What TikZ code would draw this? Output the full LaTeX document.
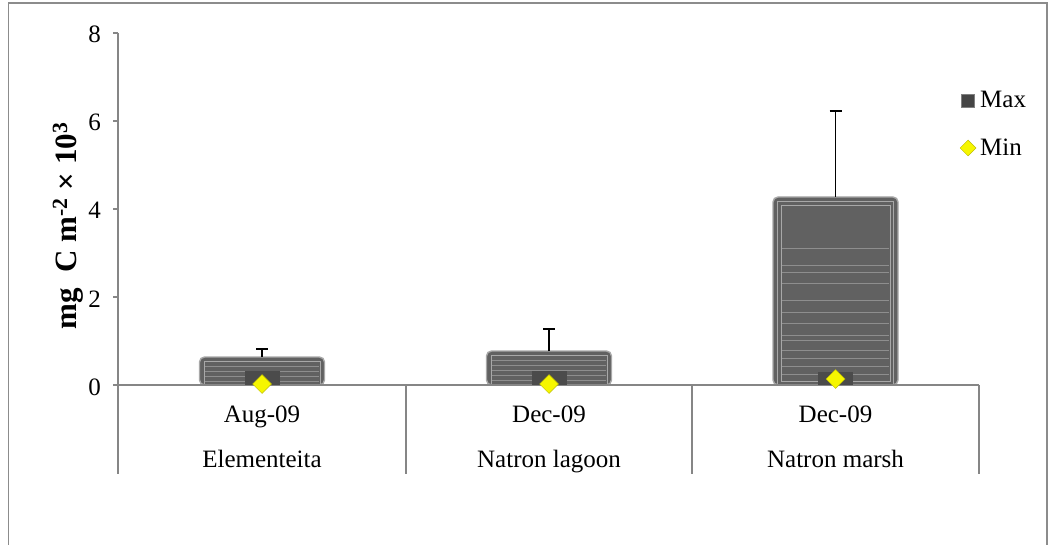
\documentclass[tikz,border=0pt]{standalone}
\usepackage{fontspec}
\setmainfont{Liberation Serif}
\usetikzlibrary{shapes.geometric}
\definecolor{axisgray}{HTML}{868686}
\definecolor{framegray}{HTML}{8C8C8C}
\definecolor{barfill}{HTML}{616161}
\definecolor{barline}{HTML}{A8A8A8}
\definecolor{stripe}{HTML}{8E8E8E}
\definecolor{minrect}{HTML}{4B4B4B}
\definecolor{dia}{HTML}{F6F600}
\definecolor{diaedge}{HTML}{BDBD00}
\definecolor{legsq}{HTML}{454545}
\begin{document}
\begin{tikzpicture}[x=1pt,y=-1pt,
  txt/.style={font=\fontsize{25}{30}\selectfont, inner sep=0pt},
  ticklabel/.style={txt, anchor=base east},
  catlabel/.style={txt, anchor=base},
  axisline/.style={draw=axisgray, line width=1.4pt},
  frameline/.style={draw=framegray, line width=1.2pt},
  barouter/.style={fill=barfill, draw=barline, line width=1.4pt, rounded corners=5pt},
  barinner/.style={draw=barline, line width=0.8pt},
  stripeline/.style={draw=stripe, line width=0.8pt},
  errbar/.style={draw=black, line width=1.5pt},
  minbox/.style={fill=minrect},
  minmark/.style={diamond, fill=dia, draw=diaedge, line width=0.5pt, minimum width=19pt, minimum height=19pt, inner sep=0pt},
  legbox/.style={fill=legsq, draw=gray, line width=0.8pt, minimum size=13pt, inner sep=0pt}
]
\useasboundingbox (0,0) rectangle (1051,545);
% frame
\draw[frameline] (8.5,560) -- (8.5,3) -- (1047,3) -- (1047,560);

% bars
\draw[barouter] (199.5,385) rectangle (324.5,357);
\draw[barinner] (204,385) rectangle (320,361);
\foreach \yy in {366,371,376,381} \draw[stripeline] (205,\yy) -- (319,\yy);

\draw[barouter] (486.5,385) rectangle (611.5,351);
\draw[barinner] (491,385) rectangle (607,355);
\foreach \yy in {360,365,370,375,380} \draw[stripeline] (492,\yy) -- (606,\yy);

\draw[barouter] (773,385) rectangle (898,197);
\draw[barinner] (777.5,385) rectangle (893.5,201);
\draw[barinner] (781,381) rectangle (890,205);
\foreach \yy in {248,265,272,283,300,312,323,335,340,350,358,366,374} \draw[stripeline] (782,\yy) -- (889,\yy);

% axes
\draw[axisline] (118,33) -- (118,474);
\draw[axisline] (113,385) -- (979,385);
\foreach \yy in {33,121,209,297} \draw[axisline] (113,\yy) -- (118,\yy);
\foreach \xx in {406,692,979} \draw[axisline] (\xx,385) -- (\xx,474);

% error bars
\coordinate (ba) at (262,357); \coordinate (ea) at (262,349);
\coordinate (bb) at (549,351); \coordinate (eb) at (549,329);
\coordinate (bc) at (835.5,197); \coordinate (ec) at (835.5,111);
\draw[errbar] (ba) -- (ea); \draw[errbar] ([xshift=-6pt]ea) -- ([xshift=6pt]ea);
\draw[errbar] (bb) -- (eb); \draw[errbar] ([xshift=-6pt]eb) -- ([xshift=6pt]eb);
\draw[errbar] (bc) -- (ec); \draw[errbar] ([xshift=-6pt]ec) -- ([xshift=6pt]ec);

% min markers
\fill[minbox] (244.5,371) rectangle (279.5,385);
\fill[minbox] (531.5,371) rectangle (566.5,385);
\fill[minbox] (818,372) rectangle (853,385);
\node[minmark] (mina) at (262,384) {};
\node[minmark] (minb) at (549,384) {};
\node[minmark] (minc) at (835.5,379) {};

% tick labels
\node[ticklabel] (t8) at (101,43) {8};
\node[ticklabel] (t6) at (101,131) {6};
\node[ticklabel] (t4) at (101,219) {4};
\node[ticklabel] (t2) at (101,307) {2};
\node[ticklabel] (t0) at (101,395) {0};

% y label
\node[inner sep=0pt, rotate=90, font=\fontsize{31}{36}\selectfont\bfseries] (ylab) at (68,226) {mg\ \ C m\textsuperscript{-2} × 10\textsuperscript{3}};

% category labels
\node[catlabel] (d1) at (262,422.5) {Aug-09};
\node[catlabel] (d2) at (549,422.5) {Dec-09};
\node[catlabel] (d3) at (835.5,422.5) {Dec-09};
\node[catlabel] (s1) at (262,467.5) {Elementeita};
\node[catlabel] (s2) at (549,467.5) {Natron lagoon};
\node[catlabel] (s3) at (835.5,467.5) {Natron marsh};

% legend
\node[legbox] (lmax) at (968,101) {};
\node[txt, anchor=base west] (lmaxt) at (980,108) {Max};
\node[minmark, minimum width=16pt, minimum height=16pt] (lmin) at (968,148) {};
\node[txt, anchor=base west] (lmint) at (980,156) {Min};
\end{tikzpicture}
\end{document}
